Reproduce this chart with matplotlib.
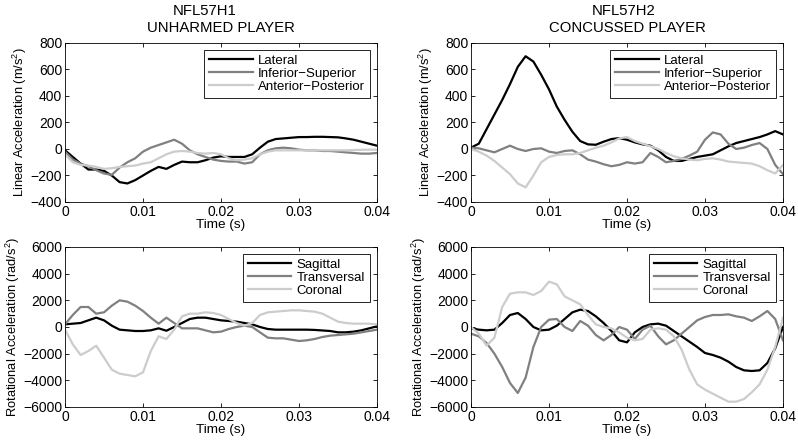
import numpy as np
import matplotlib
matplotlib.use("Agg")
import matplotlib.pyplot as plt
from matplotlib.transforms import offset_copy

plt.rcParams["font.family"] = ["Liberation Sans", "DejaVu Sans"]
plt.rcParams["mathtext.fontset"] = "custom"
plt.rcParams["mathtext.rm"] = "Liberation Sans"

# time base (s), 1 ms steps
t = [i / 1000 for i in range(41)]

# NFL57H1 - unharmed player, linear acceleration (m/s^2)
h1_lateral = [-10, -60, -110, -155, -155, -165, -200, -250, -260, -235,
              -200, -165, -135, -150, -120, -95, -100, -100, -85, -65,
              -55, -60, -60, -60, -40, 10, 55, 75, 80, 85,
              90, 90, 92, 92, 90, 88, 80, 70, 55, 40, 25]
h1_inf_sup = [-20, -80, -110, -130, -160, -185, -195, -140, -100, -70,
              -20, 10, 30, 50, 70, 40, -10, -40, -60, -80,
              -90, -95, -95, -110, -100, -40, -10, 5, 10, 5,
              -5, -10, -10, -15, -15, -20, -25, -30, -35, -35, -30]
h1_ant_post = [-40, -100, -120, -125, -135, -150, -145, -135, -130, -125,
               -110, -100, -70, -40, -20, -15, -20, -30, -35, -30,
               -40, -70, -85, -80, -70, -40, -20, -10, -10, -10,
               -10, -10, -10, -10, -10, -10, -10, -8, -6, -5, -5]

# NFL57H2 - concussed player, linear acceleration (m/s^2)
h2_lateral = [10, 40, 150, 260, 370, 490, 620, 700, 660, 560,
              450, 320, 220, 130, 60, 35, 32, 55, 75, 82,
              70, 50, 35, 25, -10, -60, -90, -90, -75, -60,
              -50, -40, -10, 20, 45, 60, 75, 90, 110, 135, 110]
h2_inf_sup = [10, 5, -10, -25, 0, 25, 0, -15, 0, 5,
              -20, -30, -15, -10, -40, -80, -95, -115, -130, -120,
              -100, -110, -100, -30, -60, -100, -90, -75, -50, -20,
              70, 125, 110, 40, 0, 10, 30, 45, 0, -120, -190]
h2_ant_post = [0, -20, -50, -90, -140, -190, -260, -290, -200, -100,
               -60, -45, -40, -40, -30, -10, 10, 25, 50, 80,
               90, 60, 40, 20, 0, -30, -55, -70, -80, -85,
               -75, -70, -80, -95, -100, -105, -110, -130, -160, -185, -120]

# NFL57H1 - rotational acceleration (rad/s^2)
h1_sagittal = [200, 250, 300, 500, 700, 500, 100, -200, -250, -300,
               -300, -250, -100, -280, 0, 300, 600, 700, 700, 600,
               500, 450, 400, 300, 200, 0, -150, -200, -200, -200,
               -200, -200, -220, -260, -300, -400, -400, -350, -250, -100, 50]
h1_transversal = [200, 900, 1500, 1500, 1000, 1100, 1600, 2000, 1900, 1600,
                  1200, 700, 250, 700, 300, -100, -100, -100, -250, -400,
                  -350, -150, 0, 100, 0, -400, -800, -850, -850, -950,
                  -1050, -1000, -900, -750, -650, -600, -550, -500, -400, -300, -200]
h1_coronal = [-200, -1300, -2100, -1800, -1400, -2300, -3200, -3500, -3600, -3700,
              -3400, -1800, -700, -900, -200, 800, 1000, 1000, 1100, 1050,
              900, 600, 300, 100, 300, 900, 1100, 1150, 1200, 1250,
              1250, 1200, 1150, 1000, 700, 400, 300, 250, 250, 250, 200]

# NFL57H2 - rotational acceleration (rad/s^2)
h2_sagittal = [-100, -200, -250, -200, 300, 900, 1050, 600, 0, -250,
               -200, 100, 600, 1100, 1300, 1200, 800, 300, -300, -1000,
               -1150, -400, 0, 200, 250, 100, -300, -700, -1100, -1500,
               -1950, -2100, -2300, -2600, -3000, -3250, -3300, -3250, -2700, -1600, 0]
h2_transversal = [-500, -700, -1200, -2000, -3000, -4200, -4950, -3800, -1500, 0,
                  550, 600, 0, -300, 450, 100, -600, -1000, -600, 0,
                  -200, -900, -200, 100, -700, -1300, -1000, -500, 0, 500,
                  750, 900, 900, 950, 800, 700, 450, 800, 1200, 600, -1000]
h2_coronal = [0, -500, -1400, -800, 1500, 2500, 2600, 2600, 2400, 2700,
              3400, 3200, 2300, 2000, 1700, 900, 200, 0, -100, -400,
              -800, -1000, -900, -200, -100, -200, -700, -1700, -3200, -4300,
              -4700, -5000, -5300, -5600, -5600, -5400, -4900, -4300, -3200, -1500, 700]

case_ids = ["NFL57H1", "NFL57H2"]
case_names = ["UNHARMED PLAYER", "CONCUSSED PLAYER"]
lin_labels = ["Lateral", "Inferior\u2212Superior", "Anterior\u2212Posterior"]
rot_labels = ["Sagittal", "Transversal", "Coronal"]
colors = ["black", "#808080", "#cccccc"]

W, H = 798, 442
fig = plt.figure(figsize=(W / 100, H / 100), dpi=100)


def px_axes(x0, y0, x1, y1):
    return fig.add_axes([x0 / W, 1 - y1 / H, (x1 - x0) / W, (y1 - y0) / H])


def style(ax, ylim, yticks, ylabel, labels, series):
    for y, c, lab in zip(series, colors, labels):
        ax.plot(t, y, color=c, lw=1.6, label=lab)
    ax.set_xlim(0, 0.04)
    ax.set_ylim(*ylim)
    ax.set_xticks([0, 0.01, 0.02, 0.03, 0.04])
    ax.set_xticklabels(["0", "0.01", "0.02", "0.03", "0.04"])
    ax.set_yticks(yticks)
    ax.tick_params(direction="in", top=True, right=True, labelsize=10,
                   length=3, width=0.6, pad=2)
    for s in ax.spines.values():
        s.set_linewidth(0.6)
    ax.set_xlabel("Time (s)", fontsize=9.7, labelpad=0)
    ax.set_ylabel(ylabel, fontsize=9.3, labelpad=1)
    leg = ax.legend(loc="upper right", fontsize=9.5, fancybox=False,
                    edgecolor="black", framealpha=1, handlelength=3.3,
                    borderpad=0.4, labelspacing=0.05, handletextpad=0.4,
                    borderaxespad=0.5)
    leg.get_frame().set_linewidth(0.6)


lin_data = [(h1_lateral, h1_inf_sup, h1_ant_post),
            (h2_lateral, h2_inf_sup, h2_ant_post)]
rot_data = [(h1_sagittal, h1_transversal, h1_coronal),
            (h2_sagittal, h2_transversal, h2_coronal)]

# first title line sits a little left of centre on the left panel
id_shift = [-0.051, -0.01]

for i, x0 in enumerate([65, 471]):
    ax = px_axes(x0, 43, x0 + 312, 202)
    style(ax, (-400, 800), range(-400, 801, 200),
          "Linear Acceleration (m/s$^2$)", lin_labels, lin_data[i])
    ax.set_title(case_names[i], fontsize=10.7, pad=8)
    tr = offset_copy(ax.transAxes, fig=fig, y=20, units="points")
    ax.text(0.5 + id_shift[i], 1, case_ids[i], transform=tr, ha="center",
            va="baseline", fontsize=10.7)

    ax = px_axes(x0, 247, x0 + 312, 407)
    style(ax, (-6000, 6000), range(-6000, 6001, 2000),
          "Rotational Acceleration (rad/s$^2$)", rot_labels, rot_data[i])

fig.savefig("out.png", dpi=100)
